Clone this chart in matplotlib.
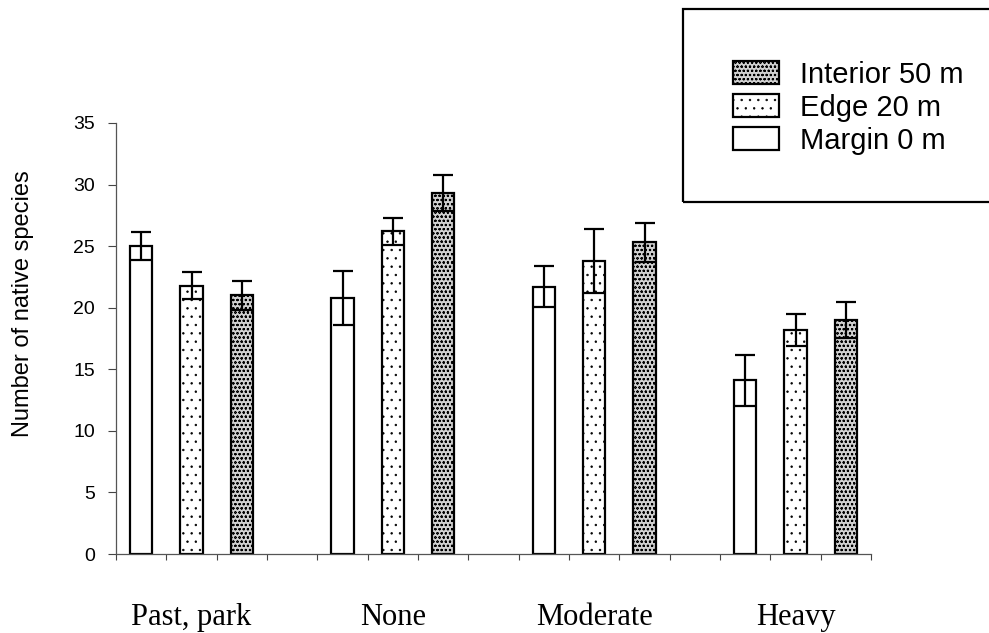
import numpy as np
import matplotlib.pyplot as plt
from matplotlib.patches import Rectangle

# native species counts per grazing history and transect position
groups = ["Past, park", "None", "Moderate", "Heavy"]
positions = ["Margin 0 m", "Edge 20 m", "Interior 50 m"]

margin_mean = [25.0, 20.8, 21.7, 14.1]
margin_err = [1.15, 2.2, 1.65, 2.1]
edge_mean = [21.8, 26.2, 23.8, 18.2]
edge_err = [1.1, 1.1, 2.6, 1.3]
interior_mean = [21.0, 29.3, 25.3, 19.0]
interior_err = [1.15, 1.45, 1.6, 1.45]

plt.rcParams["font.family"] = ["Liberation Sans", "DejaVu Sans"]
plt.rcParams["hatch.linewidth"] = 0.5

fig = plt.figure(figsize=(9.89, 6.33), dpi=100)
ax = fig.add_axes([0.1173, 0.1248, 0.7634, 0.6809])

means = [margin_mean, edge_mean, interior_mean]
errs = [margin_err, edge_err, interior_err]
faces = ["white", "white", "#d0d0d0"]
hatches = [None, "..", "oooo"]

# four slots per group: three bars and one empty gap
handles = []
for j in range(3):
    x = np.arange(len(groups)) * 4 + j + 0.5
    b = ax.bar(x, means[j], width=0.44, color=faces[j], edgecolor="black",
               linewidth=1.6, hatch=hatches[j], label=positions[j], zorder=2)
    ax.errorbar(x, means[j], yerr=errs[j], fmt="none", ecolor="black",
                elinewidth=1.6, capsize=7, capthick=1.6, zorder=3)
    handles.append(b)

ax.set_xlim(0, 15)
ax.set_ylim(0, 35)
ax.set_yticks(np.arange(0, 36, 5))
ax.set_xticks(np.arange(0, 16))
ax.set_xticklabels([])
ax.set_xticks(np.arange(len(groups)) * 4 + 1.5, minor=True)
ax.set_xticklabels(groups, minor=True, family=["Liberation Serif"], fontsize=22)
ax.tick_params(axis="x", which="minor", length=0, pad=35)
ax.tick_params(axis="x", which="major", direction="out", length=4, width=0.8, color="#444")
ax.tick_params(axis="y", direction="out", length=6, width=0.8, color="#444",
               labelsize=14, pad=9)

for s in ["top", "right"]:
    ax.spines[s].set_visible(False)
for s in ["left", "bottom"]:
    ax.spines[s].set_color("#555")
    ax.spines[s].set_linewidth(0.9)

fig.text(23 / 989, 1 - 304 / 633, "Number of native species", rotation=90,
         ha="center", va="center", fontsize=17)

# legend box runs off the right edge
fig.patches.append(Rectangle((683 / 989, 1 - 202 / 633), 0.4, 193 / 633,
                             transform=fig.transFigure, facecolor="none",
                             edgecolor="black", linewidth=1.6))
fig.legend(handles[::-1], positions[::-1], loc="upper left",
           bbox_to_anchor=(718 / 989, 1 - 46 / 633), frameon=False,
           fontsize=21, handlelength=1.6, handleheight=0.85,
           labelspacing=0.17, handletextpad=0.7, borderpad=0)

fig.savefig("out.png", dpi=100)
